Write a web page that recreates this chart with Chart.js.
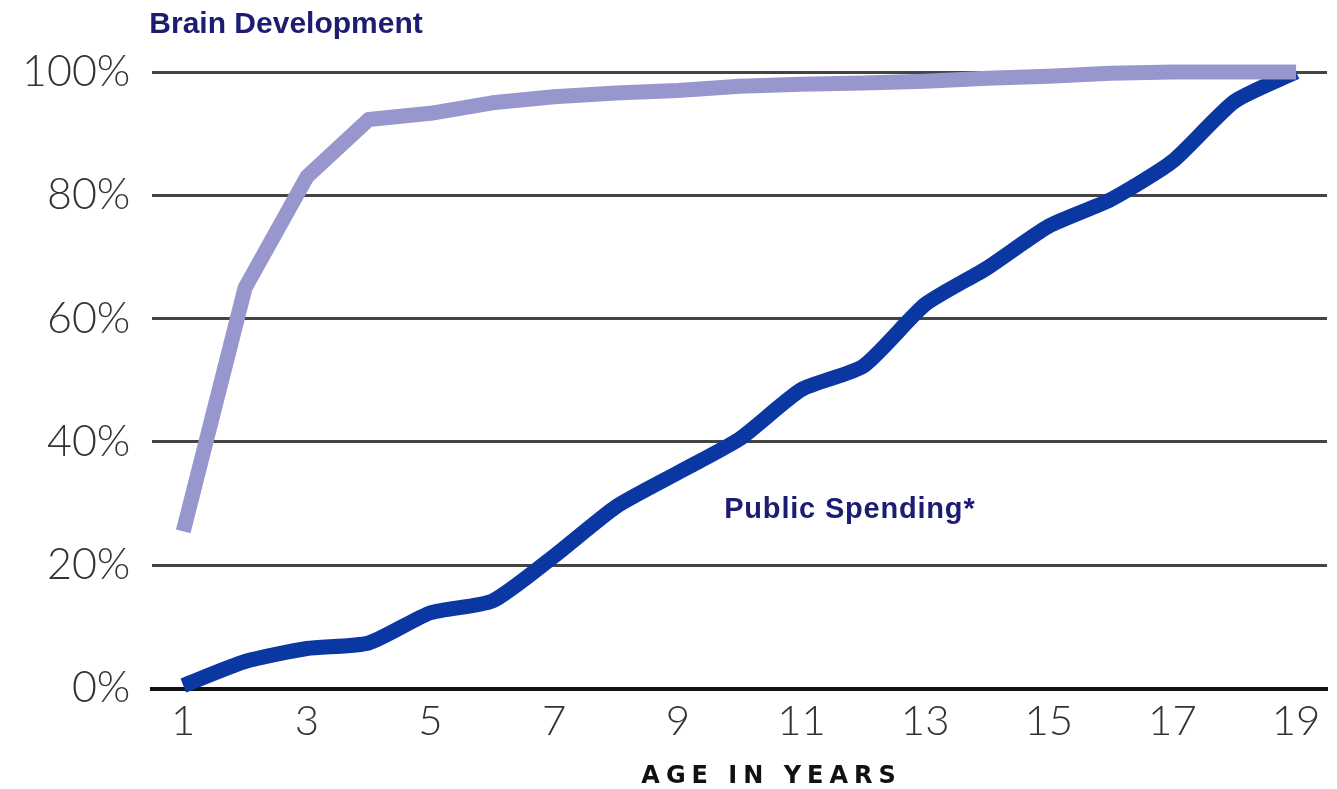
<!DOCTYPE html>
<html>
<head>
<meta charset="utf-8">
<script src="https://cdn.jsdelivr.net/npm/chart.js@4.4.1/dist/chart.umd.min.js"></script>
<style>
  html, body { margin: 0; padding: 0; background: #ffffff; }
  #wrap { width: 1337px; height: 789px; position: relative; }
</style>
</head>
<body>
<div id="wrap"><canvas id="c" width="1337" height="789"></canvas></div>
<script>
// ---- data ----
const ages = ['1','2','3','4','5','6','7','8','9','10','11','12','13','14','15','16','17','18','19'];
const brainDevelopment = [25.5, 65, 83, 92.3, 93.3, 95, 96, 96.6, 97, 97.7, 98, 98.2, 98.5, 99, 99.3, 99.8, 100, 100, 100];
const publicSpending = [0.5, 4.4, 6.5, 7.4, 12.3, 14.2, 21.5, 29.5, 35, 40.5, 48.5, 52.3, 62.3, 68.2, 75, 79.3, 85.5, 95.2, 100];
const yTickValues = [0, 20, 40, 60, 80, 100];
const xTickShown = ['1','3','5','7','9','11','13','15','17','19'];
const seriesLabels = ['Brain Development', 'Public Spending*'];
const xAxisTitle = 'AGE IN YEARS';

const labelPlugin = {
  id: 'labels',
  afterDraw(chart) {
    const ctx = chart.ctx;
    const a = chart.chartArea;
    const xs = chart.scales.x, ys = chart.scales.y;
    ctx.save();
    // Brain Development label (top-left)
    ctx.fillStyle = '#1c1c72';
    ctx.font = 'bold 30px "Liberation Sans", Arial, sans-serif';
    ctx.textAlign = 'left';
    ctx.textBaseline = 'alphabetic';
    ctx.fillText(seriesLabels[0], a.left - 3, a.top - 39);
    // Public Spending label near its line
    ctx.font = 'bold 29px "Liberation Sans", Arial, sans-serif';
    try { ctx.letterSpacing = '0.8px'; } catch (e) {}
    ctx.fillText(seriesLabels[1], xs.getPixelForValue(8.75), ys.getPixelForValue(27.7));
    // X axis title, letter-spaced
    ctx.fillStyle = '#111111';
    ctx.font = 'bold 24px "DejaVu Sans", sans-serif';
    ctx.textAlign = 'center';
    try { ctx.letterSpacing = '6px'; } catch (e) {}
    ctx.fillText(xAxisTitle, xs.getPixelForValue(9.5) + 1, chart.height - 6);
    ctx.restore();
  }
};

new Chart(document.getElementById('c'), {
  type: 'line',
  data: {
    labels: ages,
    datasets: [
      {
        label: seriesLabels[0],
        data: brainDevelopment,
        borderColor: '#9797cd',
        borderWidth: 15,
        pointRadius: 0,
        tension: 0,
        borderJoinStyle: 'round',
        borderCapStyle: 'butt',
        clip: false,
        order: 0
      },
      {
        label: seriesLabels[1],
        data: publicSpending,
        borderColor: '#0b37a3',
        borderWidth: 15,
        pointRadius: 0,
        tension: 0.2,
        borderJoinStyle: 'round',
        borderCapStyle: 'butt',
        clip: false,
        order: 1
      }
    ]
  },
  options: {
    responsive: false,
    animation: false,
    layout: { padding: { top: 72, left: 0, right: 10, bottom: 34 } },
    plugins: {
      legend: { display: false },
      tooltip: { enabled: false },
      title: { display: false }
    },
    scales: {
      x: {
        type: 'category',
        offset: true,
        grid: { display: false, drawTicks: false },
        border: { display: true, color: '#111111', width: 4 },
        ticks: {
          autoSkip: false,
          maxRotation: 0,
          padding: 8,
          color: '#333333',
          font: { family: 'Lato, "Noto Sans", sans-serif', size: 42, weight: 300 },
          callback: function(v, i) { const l = ages[i]; return xTickShown.includes(l) ? l : ''; }
        }
      },
      y: {
        min: 0,
        max: 100,
        afterBuildTicks: (s) => { s.ticks = yTickValues.map(v => ({ value: v })); },
        grid: { color: '#444444', lineWidth: 3, drawTicks: false },
        border: { display: false },
        ticks: {
          padding: 22,
          color: '#333333',
          font: { family: 'Lato, "Noto Sans", sans-serif', size: 43, weight: 300 },
          callback: (v) => v + '%'
        }
      }
    }
  },
  plugins: [labelPlugin]
});
</script>
</body>
</html>
